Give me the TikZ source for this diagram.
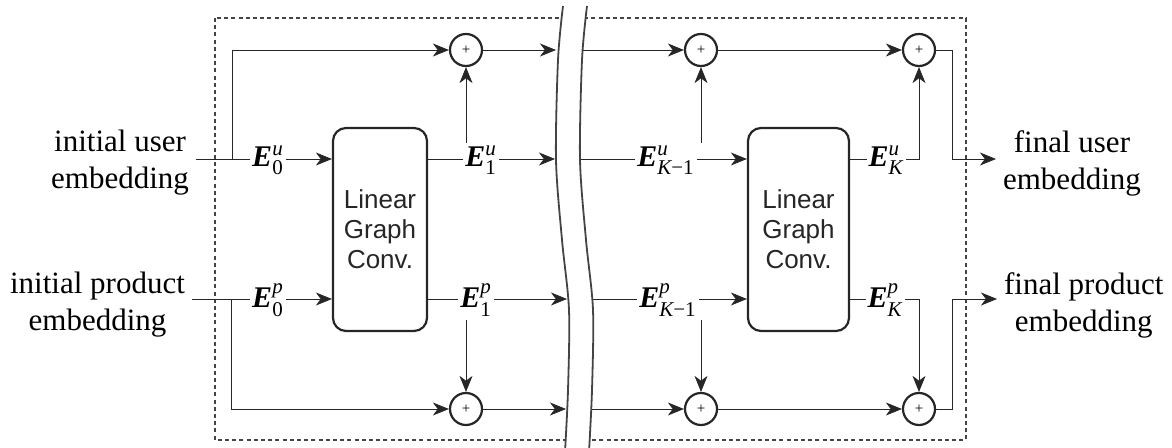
\documentclass[tikz,border=0pt]{standalone}
\usepackage{fontspec}
\usepackage{amsmath}
\setmainfont{Liberation Serif}
\setsansfont{Liberation Sans}
\usetikzlibrary{arrows.meta,backgrounds}
\definecolor{ink}{HTML}{262626}
\definecolor{frame}{HTML}{444444}

% bold italic embedding symbol with super- and subscript
\newcommand\emb[2]{$\textbf{\textit{E}}^{\textit{#1}}_{#2}$}

\begin{document}
\begin{tikzpicture}[x=0.5pt,y=-0.5pt,line width=1.1pt,
  arr/.style={draw=ink,-{Stealth[length=8pt,width=6.5pt,inset=2.4pt]}},
  convbox/.style={draw=ink,rounded corners=6.5pt,minimum height=101.5pt,
    align=center,text=ink,font=\sffamily\fontsize{13}{15}\selectfont},
  sumn/.style={circle,draw=ink,minimum size=16pt,inner sep=0pt,
    font=\fontsize{7.5}{7.5}\selectfont},
  elbl/.style={fill=white,inner sep=1pt,font=\fontsize{15}{17}\selectfont},
  txt/.style={align=center,inner sep=3pt,font=\fontsize{15.5}{18.5}\selectfont},
  brk/.style={draw=frame,line width=0.9pt},
  frm/.style={draw=frame,line width=0.7pt,dash pattern=on 2pt off 1.6pt}]

\useasboundingbox (0,0) rectangle (1172,448);

% side texts
\node[txt,anchor=east] (inU) at (196,163) {initial user\\embedding};
\node[txt,anchor=east] (inP) at (192,305) {initial product\\embedding};
\node[txt,anchor=west] (outU) at (996,163) {final user\\embedding};
\node[txt,anchor=west] (outP) at (997,305) {final product\\embedding};

% convolution blocks
\node[convbox,minimum width=47pt] (box1) at (380,229.5) {Linear\\Graph\\Conv.};
\node[convbox,minimum width=50.5pt] (box2) at (798.5,229.5) {Linear\\Graph\\Conv.};

% adders
\node[sumn] (s1u) at (466,50) {+};
\node[sumn] (s2u) at (701,50) {+};
\node[sumn] (s3u) at (919,50) {+};
\node[sumn] (s1p) at (466,409) {+};
\node[sumn] (s2p) at (701,409) {+};
\node[sumn] (s3p) at (919,409) {+};

% embedding labels
\node[elbl] (E0u) at (268,160) {\emb{u}{\textup{0}}};
\node[elbl] (E0p) at (268,300) {\emb{p}{\textup{0}}};
\node[elbl] (E1u) at (481,160) {\emb{u}{\textup{1}}};
\node[elbl] (E1p) at (476,300) {\emb{p}{\textup{1}}};
\node[elbl] (EK1u) at (666,160) {\emb{u}{\textit{K}\textup{−1}}};
\node[elbl] (EK1p) at (668,300) {\emb{p}{\textit{K}\textup{−1}}};
\node[elbl] (EKu) at (886,160) {\emb{u}{\textit{K}}};
\node[elbl] (EKp) at (885,300) {\emb{p}{\textit{K}}};

% junctions and break ends
\coordinate (jU) at (232,159);
\coordinate (jP) at (231,299);
\coordinate (kU) at (952,159);
\coordinate (kP) at (952,299);
\coordinate (bT) at (556,50);
\coordinate (bU) at (555,159);
\coordinate (bP) at (567,299);
\coordinate (bB) at (566,409);
\coordinate (aT) at (583,50);
\coordinate (aU) at (581,159);
\coordinate (aP) at (593,299);
\coordinate (aB) at (592,409);

\begin{pgfonlayer}{background}
  % dashed frame with the break cut through it
  \draw[frm] (215,18) rectangle (966,440);
  \fill[white] plot[smooth] coordinates {(563,6) (558,60) (556,160) (562,240) (569,310) (568,390) (565,452)}
    -- plot[smooth] coordinates {(589,452) (592,390) (593,310) (586,240) (580,160) (582,60) (587,6)} -- cycle;
  \draw[brk] plot[smooth] coordinates {(563,6) (558,60) (556,160) (562,240) (569,310) (568,390) (565,452)};
  \draw[brk] plot[smooth] coordinates {(587,6) (582,60) (580,160) (586,240) (593,310) (592,390) (589,452)};

  % user path
  \draw[arr] (inU.east |- jU) -- (box1.west |- jU);
  \draw[arr] (jU) |- (s1u);
  \draw[arr] (s1u) -- (bT);
  \draw[arr] (box1.east |- bU) -- (bU);
  \draw[arr] (E1u.north -| s1u) -- (s1u);
  \draw[arr] (aT) -- (s2u);
  \draw[arr] (aU) -- (box2.west |- aU);
  \draw[arr] (EK1u.north -| s2u) -- (s2u);
  \draw[arr] (s2u) -- (s3u);
  \draw[arr] (box2.east |- kU) -| (s3u);
  \draw[arr] (s3u) -| (kU) -- (outU.west |- kU);

  % product path
  \draw[arr] (inP.east |- jP) -- (box1.west |- jP);
  \draw[arr] (jP) |- (s1p);
  \draw[arr] (s1p) -- (bB);
  \draw[arr] (box1.east |- bP) -- (bP);
  \draw[arr] (E1p.south -| s1p) -- (s1p);
  \draw[arr] (aB) -- (s2p);
  \draw[arr] (aP) -- (box2.west |- aP);
  \draw[arr] (EK1p.south -| s2p) -- (s2p);
  \draw[arr] (s2p) -- (s3p);
  \draw[arr] (box2.east |- kP) -| (s3p);
  \draw[arr] (s3p) -| (kP) -- (outP.west |- kP);
\end{pgfonlayer}
\end{tikzpicture}
\end{document}
